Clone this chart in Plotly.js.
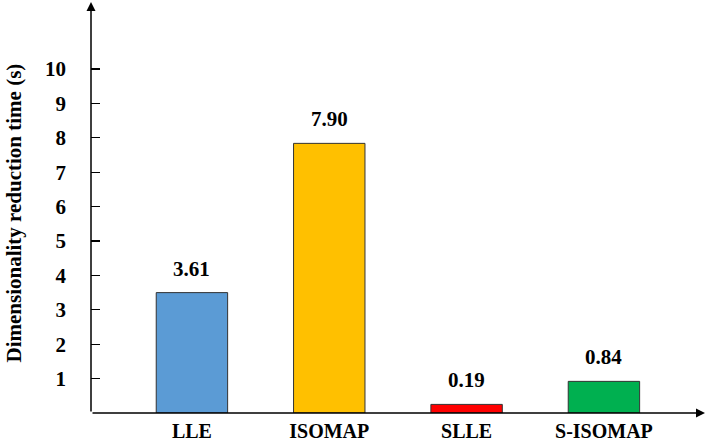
<!DOCTYPE html>
<html>
<head>
<meta charset="utf-8">
<script src="https://cdn.plot.ly/plotly-3.0.1.min.js"></script>
<style>
  html, body { margin: 0; padding: 0; background: #fff; }
  #chart { width: 709px; height: 443px; }
</style>
</head>
<body>
<div id="chart"></div>
<script>
// methods on the x axis
const methods = ['LLE', 'ISOMAP', 'SLLE', 'S-ISOMAP'];
// bar heights as drawn in the figure
const barHeights = [3.5, 7.84, 0.25, 0.92];
// value labels printed above the bars
const valueLabels = ['3.61', '7.90', '0.19', '0.84'];
const barColors = ['#5B9BD5', '#FFC000', '#FF0000', '#00B050'];
const yTicks = [1, 2, 3, 4, 5, 6, 7, 8, 9, 10];

const font = { family: 'Liberation Serif', color: '#000' };

const trace = {
    x: methods,
    y: barHeights,
    type: 'bar',
    width: 0.52,
    marker: { color: barColors, line: { color: '#333', width: 1 } },
    hoverinfo: 'skip'
};

// labels above bars
const annotations = methods.map((m, i) => ({
    x: m,
    y: barHeights[i],
    xref: 'x',
    yref: 'y',
    text: '<b>' + valueLabels[i] + '</b>',
    showarrow: false,
    yanchor: 'bottom',
    yshift: 10,
    font: { ...font, size: 21 }
}));

// y axis title, placed by hand so it sits at the left edge
annotations.push({
    x: 0, y: 0.5, xref: 'paper', yref: 'paper',
    xshift: -92, yshift: -6,
    text: '<b>Dimensionality reduction time (s)</b>',
    textangle: -90,
    showarrow: false,
    font: { ...font, size: 21 }
});

// axis arrows
annotations.push({
    x: 0, y: 1, xref: 'paper', yref: 'paper',
    ax: 0, ay: 411, axref: 'pixel', ayref: 'pixel',
    showarrow: true, arrowhead: 2, arrowsize: 1.2, arrowwidth: 1.5,
    arrowcolor: '#000', text: '', standoff: 0
});
annotations.push({
    x: 1, y: 0, xref: 'paper', yref: 'paper',
    ax: -614, ay: 0, axref: 'pixel', ayref: 'pixel',
    showarrow: true, arrowhead: 2, arrowsize: 1.2, arrowwidth: 1.5,
    arrowcolor: '#000', text: '', standoff: 0
});

const layout = {
    width: 709,
    height: 443,
    margin: { l: 91, r: 4, t: 2, b: 30.3 },
    paper_bgcolor: '#fff',
    plot_bgcolor: '#fff',
    showlegend: false,
    font: font,
    xaxis: {
        range: [-0.735, 3.736],
        showgrid: false,
        zeroline: false,
        showline: false,
        ticks: '',
        ticklabelstandoff: 4,
        tickfont: { ...font, size: 20, weight: 'bold' },
        automargin: false,
        fixedrange: true
    },
    yaxis: {
        range: [0, 11.95],
        tickvals: yTicks,
        ticktext: yTicks.map(String),
        showgrid: false,
        zeroline: false,
        showline: false,
        ticks: 'inside',
        ticklen: 9,
        tickwidth: 1.2,
        tickcolor: '#000',
        ticklabelstandoff: 24,
        tickfont: { ...font, size: 21, weight: 'bold' },
        automargin: false,
        fixedrange: true
    },
    annotations: annotations
};

Plotly.newPlot('chart', [trace], layout, { displayModeBar: false, staticPlot: true });
</script>
</body>
</html>
